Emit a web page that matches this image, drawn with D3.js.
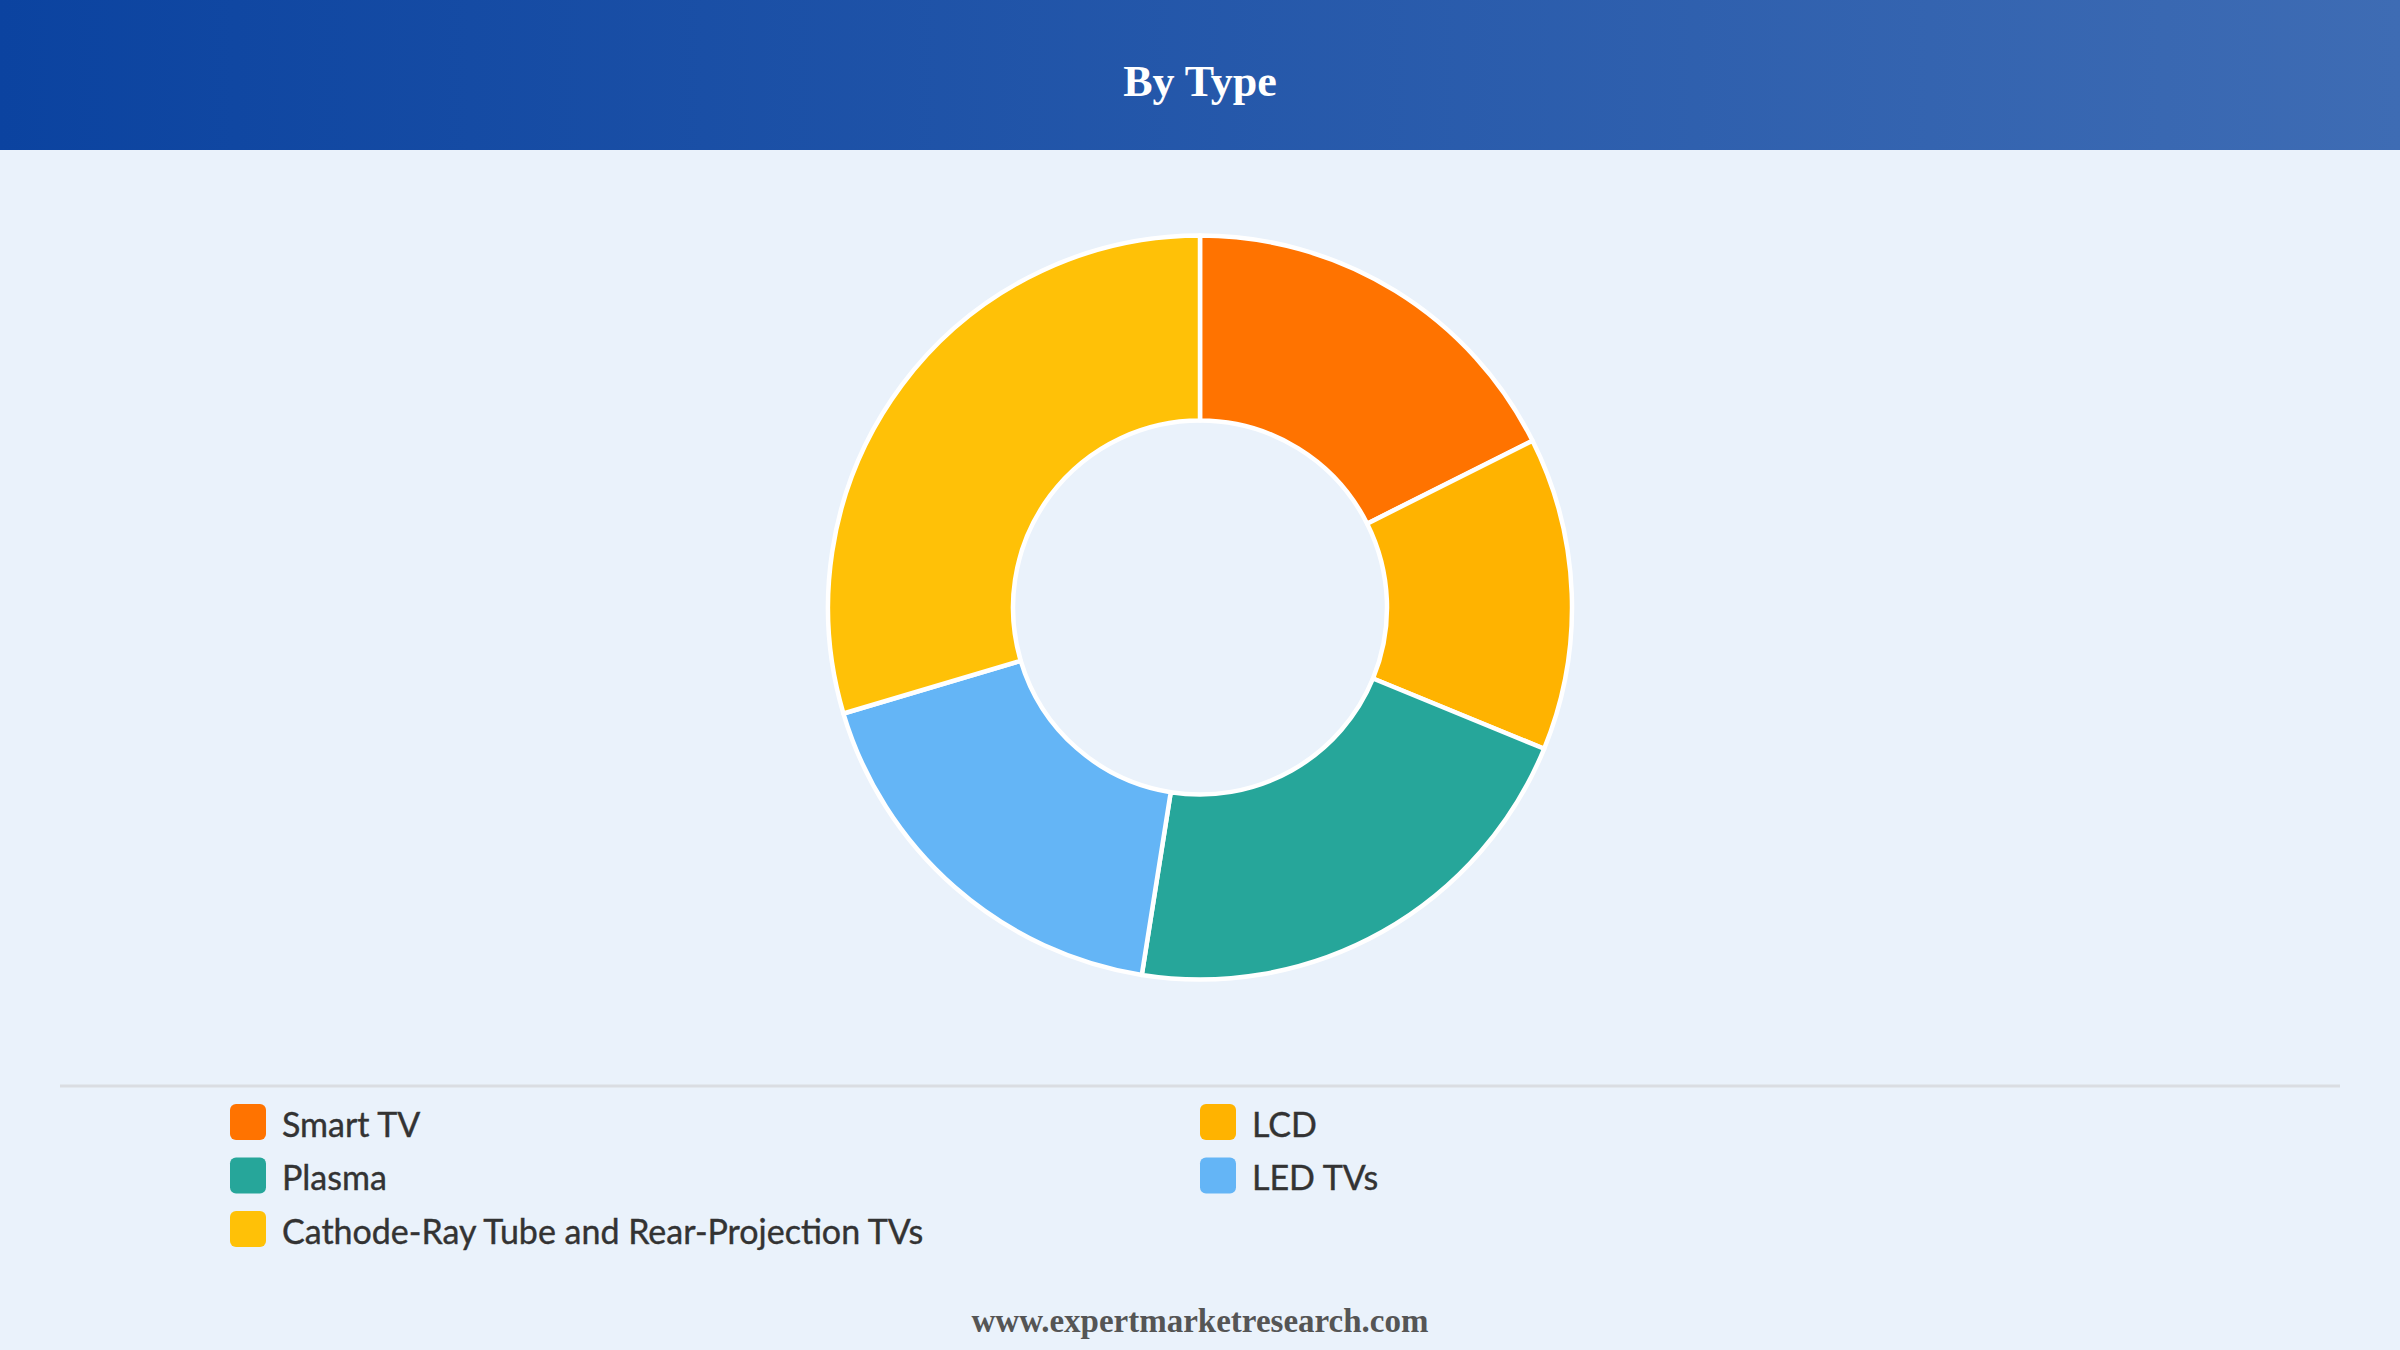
<!DOCTYPE html>
<html>
<head>
<meta charset="utf-8">
<script src="https://cdn.jsdelivr.net/npm/d3@7"></script>
<style>
  html, body { margin: 0; padding: 0; background: #EAF2FB; }
  svg { display: block; }
</style>
</head>
<body>
<svg id="board" width="2400" height="1350"></svg>
<script>
// chart data
let categories = ['Smart TV', 'LCD', 'Plasma', 'LED TVs', 'Cathode-Ray Tube and Rear-Projection TVs']
let shares = [17.6, 13.6, 21.3, 17.9, 29.6]
let colors = ['#FF7300', '#FFB300', '#26A69A', '#64B5F6', '#FFC107']

let width = 2400
let height = 1350
let board = d3.select('#board')

// header band with gradient
let defs = board.append('defs')
let grad = defs.append('linearGradient').attr('id', 'headGrad')
    .attr('x1', '0%').attr('x2', '100%').attr('y1', '0%').attr('y2', '0%')
grad.append('stop').attr('offset', '0%').attr('stop-color', '#0B43A0')
grad.append('stop').attr('offset', '100%').attr('stop-color', '#3E6CB4')

board.append('rect')
    .attr('width', width).attr('height', height).attr('fill', '#EAF2FB')
board.append('rect')
    .attr('width', width).attr('height', 150).attr('fill', 'url(#headGrad)')

board.append('text')
    .attr('x', width / 2).attr('y', 81)
    .attr('text-anchor', 'middle').attr('dominant-baseline', 'central')
    .attr('font-family', '"Liberation Serif", "Times New Roman", serif')
    .attr('font-weight', 'bold').attr('font-size', 44)
    .attr('fill', '#ffffff')
    .text('By Type')

// donut
let color = d3.scaleOrdinal().domain(categories).range(colors)
let pie = d3.pie().sort(null).value((d, i) => shares[i])
let arc = d3.arc().innerRadius(187).outerRadius(372)

let g = board.append('g').attr('transform', 'translate(1200,607.5)')
g.selectAll('path')
    .data(pie(categories))
    .enter()
    .append('path')
    .attr('d', arc)
    .attr('fill', (d) => color(d.data))
    .attr('stroke', '#ffffff')
    .attr('stroke-width', 4.5)
    .attr('stroke-linejoin', 'round')

// legend separator
board.append('line')
    .attr('x1', 60).attr('x2', 2340)
    .attr('y1', 1086).attr('y2', 1086)
    .attr('stroke', '#DADDE2').attr('stroke-width', 3)

// legend, two columns, row-major
let colX = [230, 1200]
let rowY = d3.scalePoint().domain([0, 1, 2]).range([1122, 1229])

let items = board.selectAll('g.legend')
    .data(categories)
    .enter()
    .append('g')
    .attr('class', 'legend')
    .attr('transform', (d, i) => 'translate(' + colX[i % 2] + ',' + rowY(Math.floor(i / 2)) + ')')

items.append('rect')
    .attr('x', 0).attr('y', -18)
    .attr('width', 36).attr('height', 36)
    .attr('rx', 6).attr('ry', 6)
    .attr('fill', (d) => color(d))

items.append('text')
    .attr('x', 52).attr('y', 1)
    .attr('dominant-baseline', 'central')
    .attr('font-family', 'Lato, "Noto Sans", sans-serif')
    .attr('font-size', 34)
    .attr('fill', '#333333')
    .attr('stroke', '#333333').attr('stroke-width', 0.4)
    .text((d) => d)

// footer
board.append('text')
    .attr('x', width / 2).attr('y', 1321)
    .attr('text-anchor', 'middle').attr('dominant-baseline', 'central')
    .attr('font-family', '"Liberation Serif", "Times New Roman", serif')
    .attr('font-weight', 'bold').attr('font-size', 33)
    .attr('fill', '#555555')
    .text('www.expertmarketresearch.com')
</script>
</body>
</html>
